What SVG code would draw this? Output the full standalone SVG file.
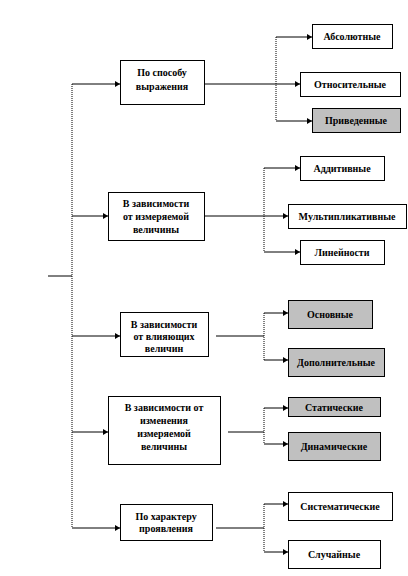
<svg xmlns="http://www.w3.org/2000/svg" width="408" height="576" viewBox="0 0 408 576">
<defs>
<marker id="ah" markerWidth="6" markerHeight="6" refX="5" refY="3" orient="auto" markerUnits="userSpaceOnUse">
<path d="M0,0 L5,3 L0,6 Z" fill="#000"/>
</marker>
</defs>
<style>
.w,.g{stroke:#000;stroke-width:1}
.w{fill:#fff}
.g{fill:#c0c0c0}
text{font-family:"Liberation Serif","Times New Roman",serif;font-size:10px;font-weight:bold;text-anchor:middle;fill:#000}
.c line{stroke:#000;stroke-width:1}
.c .d{stroke-dasharray:1,1}
.c .a{marker-end:url(#ah)}
</style>
<rect x="0" y="0" width="408" height="576" fill="#fff" stroke="none"/>
<g class="c" id="connectors">
<line x1="48" y1="276" x2="72" y2="276"/>
<line class="d" x1="72" y1="84" x2="72" y2="528"/>
<line class="a" x1="72" y1="84" x2="120" y2="84"/>
<line class="a" x1="72" y1="216" x2="108" y2="216"/>
<line class="a" x1="72" y1="336" x2="120" y2="336"/>
<line class="a" x1="72" y1="432" x2="108" y2="432"/>
<line class="a" x1="72" y1="528" x2="120" y2="528"/>
<line x1="204" y1="84" x2="276" y2="84"/>
<line class="d" x1="276" y1="37" x2="276" y2="121"/>
<line class="a" x1="276" y1="37" x2="312" y2="37"/>
<line class="a" x1="276" y1="84" x2="300" y2="84"/>
<line class="a" x1="276" y1="121" x2="312" y2="121"/>
<line x1="204" y1="216" x2="264" y2="216"/>
<line class="d" x1="264" y1="168" x2="264" y2="252"/>
<line class="a" x1="264" y1="168" x2="300" y2="168"/>
<line class="a" x1="264" y1="216" x2="288" y2="216"/>
<line class="a" x1="264" y1="252" x2="300" y2="252"/>
<line x1="216" y1="336" x2="264" y2="336"/>
<line class="d" x1="264" y1="313" x2="264" y2="360"/>
<line class="a" x1="264" y1="313" x2="288" y2="313"/>
<line class="a" x1="264" y1="360" x2="288" y2="360"/>
<line x1="228" y1="432" x2="264" y2="432"/>
<line class="d" x1="264" y1="408" x2="264" y2="444"/>
<line class="a" x1="264" y1="408" x2="288" y2="408"/>
<line class="a" x1="264" y1="444" x2="288" y2="444"/>
<line x1="216" y1="528" x2="264" y2="528"/>
<line class="d" x1="264" y1="504" x2="264" y2="552"/>
<line class="a" x1="264" y1="504" x2="288" y2="504"/>
<line class="a" x1="264" y1="552" x2="288" y2="552"/>
</g>
<g id="n1"><rect class="w" x="120.5" y="60.5" width="84" height="44"/><text x="162" y="76">По способу</text><text x="162" y="90">выражения</text></g>
<g id="n2"><rect class="w" x="108.5" y="192.5" width="96" height="48"/><text x="156" y="207">В зависимости</text><text x="156" y="220">от измеряемой</text><text x="156" y="233">величины</text></g>
<g id="n3"><rect class="w" x="120.5" y="312.5" width="88" height="44"/><text x="164" y="328">В зависимости</text><text x="164" y="340">от влияющих</text><text x="164" y="352">величин</text></g>
<g id="n4"><rect class="w" x="108.5" y="396.5" width="112" height="68"/><text x="164" y="411">В зависимости от</text><text x="164" y="424">изменения</text><text x="164" y="437">измеряемой</text><text x="164" y="450">величины</text></g>
<g id="n5"><rect class="w" x="120.5" y="504.5" width="92" height="36"/><text x="166" y="520">По характеру</text><text x="166" y="532">проявления</text></g>
<g id="c11"><rect class="w" x="312.5" y="24.5" width="80" height="24"/><text x="352" y="40">Абсолютные</text></g>
<g id="c12"><rect class="w" x="300.5" y="72.5" width="100" height="24"/><text x="350" y="88">Относительные</text></g>
<g id="c13"><rect class="g" x="312.5" y="108.5" width="88" height="24"/><text x="356" y="124">Приведенные</text></g>
<g id="c21"><rect class="w" x="300.5" y="156.5" width="84" height="24"/><text x="342" y="172">Аддитивные</text></g>
<g id="c22"><rect class="w" x="288.5" y="204.5" width="118" height="24"/><text x="347" y="220">Мультипликативные</text></g>
<g id="c23"><rect class="w" x="300.5" y="240.5" width="84" height="24"/><text x="342" y="256">Линейности</text></g>
<g id="c31"><rect class="g" x="288.5" y="300.5" width="84" height="28"/><text x="330" y="318">Основные</text></g>
<g id="c32"><rect class="g" x="288.5" y="348.5" width="96" height="28"/><text x="336" y="366">Дополнительные</text></g>
<g id="c41"><rect class="g" x="288.5" y="397.5" width="92" height="19"/><text x="334" y="411">Статические</text></g>
<g id="c42"><rect class="g" x="288.5" y="432.5" width="92" height="28"/><text x="334" y="450">Динамические</text></g>
<g id="c51"><rect class="w" x="288.5" y="492.5" width="104" height="28"/><text x="340" y="510">Систематические</text></g>
<g id="c52"><rect class="w" x="288.5" y="540.5" width="92" height="28"/><text x="334" y="558">Случайные</text></g>
</svg>
